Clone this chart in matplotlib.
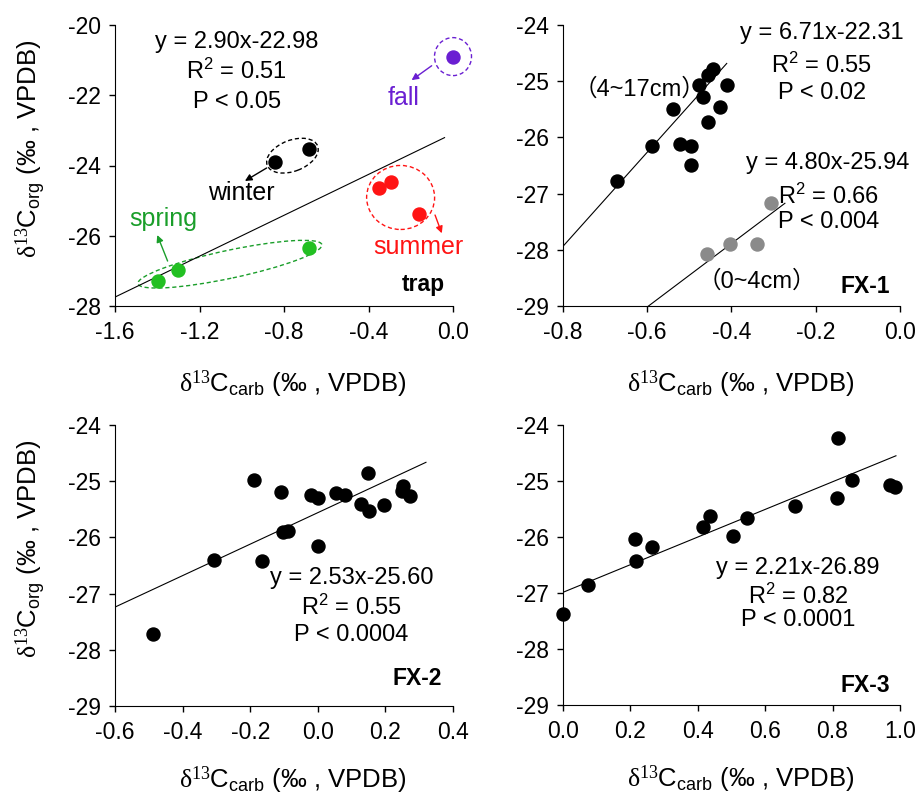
"""Four-panel d13C_org vs d13C_carb scatter plots (trap, FX-1, FX-2, FX-3)."""
import matplotlib
matplotlib.use("Agg")
import matplotlib.pyplot as plt
import matplotlib.transforms as mtransforms
from matplotlib.patches import Ellipse
from matplotlib.ticker import FormatStrFormatter
import numpy as np

plt.rcParams["font.family"] = ["Liberation Sans", "Noto Sans CJK SC", "DejaVu Sans"]
plt.rcParams["mathtext.fontset"] = "custom"
plt.rcParams["mathtext.rm"] = "Liberation Sans"
plt.rcParams["mathtext.it"] = "Liberation Sans:italic"
plt.rcParams["mathtext.sf"] = "Liberation Serif"
plt.rcParams["axes.unicode_minus"] = False

# ---- data ----
# trap, by season
spring_x = [-1.395, -1.303, -0.68]
spring_y = [-27.29, -26.98, -26.36]
summer_x = [-0.349, -0.295, -0.16]
summer_y = [-24.63, -24.48, -25.37]
fall_x = [0.0]
fall_y = [-20.90]
winter_x = [-0.843, -0.68]
winter_y = [-23.91, -23.53]

# FX-1
fx1_deep_x = [-0.672, -0.588, -0.538, -0.522, -0.496, -0.495, -0.477,
              -0.468, -0.455, -0.455, -0.443, -0.427, -0.411]
fx1_deep_y = [-26.78, -26.15, -25.49, -26.12, -26.15, -26.49, -25.07,
              -25.28, -25.72, -24.89, -24.78, -25.46, -25.06]
fx1_surf_x = [-0.457, -0.403, -0.338, -0.307]
fx1_surf_y = [-28.08, -27.89, -27.89, -27.17]

# FX-2
fx2_x = [-0.487, -0.306, -0.164, -0.188, -0.109, -0.102, -0.089, -0.021, 0.001,
         0.001, 0.053, 0.080, 0.129, 0.152, 0.149, 0.196, 0.248, 0.253, 0.273]
fx2_y = [-27.71, -26.41, -26.42, -24.98, -25.19, -25.91, -25.89, -25.24, -25.30,
         -26.16, -25.21, -25.24, -25.40, -25.53, -24.86, -25.43, -25.18, -25.09, -25.26]

# FX-3
fx3_x = [0.002, 0.076, 0.214, 0.216, 0.266, 0.415, 0.437, 0.504,
         0.547, 0.689, 0.814, 0.817, 0.857, 0.970, 0.985]
fx3_y = [-27.37, -26.86, -26.04, -26.42, -26.17, -25.82, -25.62, -25.98,
         -25.66, -25.44, -25.31, -24.24, -24.98, -25.07, -25.10]

# trend lines as drawn: (slope, intercept, x start, x end)
trap_line = (2.91, -23.09, -1.6, -0.04)
fx1_deep_line = (8.38, -21.24, -0.8, -0.411)
fx1_surf_line = (5.65, -25.63, -0.62, -0.273)
fx2_line = (2.80, -25.56, -0.6, 0.32)
fx3_line = (2.47, -26.99, 0.0, 0.988)

# axis ticks
trap_xticks = [-1.6, -1.2, -0.8, -0.4, 0.0]
trap_yticks = [-28, -26, -24, -22, -20]
fx1_xticks = [-0.8, -0.6, -0.4, -0.2, 0.0]
fx2_xticks = [-0.6, -0.4, -0.2, 0.0, 0.2, 0.4]
fx3_xticks = [0.0, 0.2, 0.4, 0.6, 0.8, 1.0]
core_yticks = [-29, -28, -27, -26, -25, -24]

XLABEL = r"$\mathsf{\delta^{13}}\mathrm{C_{carb}}$ (‰ , VPDB)"
YLABEL = r"$\mathsf{\delta^{13}}\mathrm{C_{org}}$ (‰ , VPDB)"

GREEN_PT, GREEN_TX = "#22c022", "#1a9e2a"
RED = "#ff1414"
PURPLE = "#6a1fd2"
GREY = "#8a8a8a"

FS_TICK = 16.5
FS_LAB = 18.5
FS_TXT = 17
FS_TAG = 18
MS = 88

fig = plt.figure(figsize=(9.19, 7.95), dpi=100)
W, H = 919, 795


def add_ax(l, r, t, b):
    return fig.add_axes([l / W, 1 - b / H, (r - l) / W, (b - t) / H])


def style(ax, xticks, yticks, xlab_y, ylabel=False):
    ax.set_xlim(xticks[0], xticks[-1])
    ax.set_ylim(yticks[0], yticks[-1])
    ax.set_xticks(xticks)
    ax.set_yticks(yticks)
    ax.xaxis.set_major_formatter(FormatStrFormatter("%.1f"))
    ax.yaxis.set_major_formatter(FormatStrFormatter("%d"))
    for s in ["top", "right"]:
        ax.spines[s].set_visible(False)
    ax.tick_params(direction="out", length=4, width=1, labelsize=FS_TICK)
    ax.tick_params(axis="x", pad=7)
    ax.tick_params(axis="y", pad=6)
    ax.set_xlabel(XLABEL, fontsize=FS_LAB, ha="left", va="center")
    ax.xaxis.set_label_coords(0.19, xlab_y)
    if ylabel:
        ax.set_ylabel(YLABEL, fontsize=FS_LAB, ha="left", va="center")
        ax.yaxis.set_label_coords(-0.246, 0.17)


def trend(ax, line):
    k, b, x0, x1 = line
    xs = np.array([x0, x1])
    ax.plot(xs, k * xs + b, color="black", lw=0.8)


def stats(ax, x, ys, lines):
    for y, s in zip(ys, lines):
        ax.text(x, y, s, transform=ax.transAxes, ha="center", va="center", fontsize=FS_TXT)


def tag(ax, x, y, s):
    ax.text(x, y, s, transform=ax.transAxes, fontsize=FS_TXT - 0.5, fontweight="bold",
            ha="center", va="center")


def ring(ax, cx, cy, w, h, angle, color):
    # ellipse sized in inches, centred on a data point
    tr = fig.dpi_scale_trans + mtransforms.ScaledTranslation(cx, cy, ax.transData)
    ax.add_patch(Ellipse((0, 0), w, h, angle=angle, transform=tr, fill=False,
                         ls=(0, (3, 2)), lw=1.0, edgecolor=color, clip_on=False))


def arrow(ax, xy_from, xy_to, color):
    ax.annotate("", xy=xy_to, xytext=xy_from,
                arrowprops=dict(arrowstyle="-|>", color=color, lw=1.0,
                                mutation_scale=10, shrinkA=0, shrinkB=0))


# ---- panel 1: trap ----
ax1 = add_ax(115, 453, 25, 306)
style(ax1, trap_xticks, trap_yticks, -0.28, ylabel=True)
trend(ax1, trap_line)
ax1.scatter(spring_x, spring_y, s=MS, color=GREEN_PT, zorder=3, clip_on=False)
ax1.scatter(summer_x, summer_y, s=MS, color=RED, zorder=3, clip_on=False)
ax1.scatter(fall_x, fall_y, s=MS, color=PURPLE, zorder=3, clip_on=False)
ax1.scatter(winter_x, winter_y, s=MS, color="black", zorder=3, clip_on=False)
ring(ax1, 0.0, -20.9, 0.37, 0.38, 0, PURPLE)
ring(ax1, -0.76, -23.72, 0.54, 0.31, 21, "black")
ring(ax1, -0.248, -24.91, 0.68, 0.64, 0, RED)
ring(ax1, -1.056, -26.81, 1.88, 0.28, 12, GREEN_TX)
arrow(ax1, (-0.101, -21.16), (-0.196, -21.57), PURPLE)
arrow(ax1, (-0.882, -24.07), (-0.985, -24.44), "black")
arrow(ax1, (-1.351, -26.72), (-1.40, -25.98), GREEN_TX)
arrow(ax1, (-0.085, -25.41), (-0.053, -25.93), RED)
ax1.text(-0.235, -22.09, "fall", color=PURPLE, fontsize=FS_TAG, ha="center", va="center")
ax1.text(-1.0, -24.79, "winter", color="black", fontsize=FS_TAG, ha="center", va="center")
ax1.text(-1.371, -25.51, "spring", color=GREEN_TX, fontsize=FS_TAG, ha="center", va="center")
ax1.text(-0.164, -26.32, "summer", color=RED, fontsize=FS_TAG, ha="center", va="center")
tag(ax1, 0.912, 0.075, "trap")
stats(ax1, 0.36, [0.94, 0.834, 0.727], ["y = 2.90x-22.98", r"R$^{2}$ = 0.51", "P < 0.05"])

# ---- panel 2: FX-1 ----
ax2 = add_ax(562.7, 900, 25, 306)
style(ax2, fx1_xticks, core_yticks, -0.28)
trend(ax2, fx1_deep_line)
trend(ax2, fx1_surf_line)
ax2.scatter(fx1_deep_x, fx1_deep_y, s=MS, color="black", zorder=3)
ax2.scatter(fx1_surf_x, fx1_surf_y, s=MS, color=GREY, zorder=3)
stats(ax2, 0.768, [0.97, 0.858, 0.757], ["y = 6.71x-22.31", r"R$^{2}$ = 0.55", "P < 0.02"])
stats(ax2, 0.787, [0.508, 0.389, 0.30], ["y = 4.80x-25.94", r"R$^{2}$ = 0.66", "P < 0.004"])
ax2.text(0.229, 0.769, "（4~17cm）", transform=ax2.transAxes, fontsize=FS_TXT,
         ha="center", va="center")
ax2.text(0.575, 0.086, "（0~4cm）", transform=ax2.transAxes, fontsize=FS_TXT,
         ha="center", va="center")
tag(ax2, 0.896, 0.069, "FX-1")

# ---- panel 3: FX-2 ----
ax3 = add_ax(115, 453, 425, 706)
style(ax3, fx2_xticks, core_yticks, -0.265, ylabel=True)
trend(ax3, fx2_line)
ax3.scatter(fx2_x, fx2_y, s=MS, color="black", zorder=3)
stats(ax3, 0.70, [0.454, 0.351, 0.253], ["y = 2.53x-25.60", r"R$^{2}$ = 0.55", "P < 0.0004"])
tag(ax3, 0.893, 0.099, "FX-2")

# ---- panel 4: FX-3 ----
ax4 = add_ax(562.7, 900, 425, 705)
style(ax4, fx3_xticks, core_yticks, -0.265)
trend(ax4, fx3_line)
ax4.scatter(fx3_x, fx3_y, s=MS, color="black", zorder=3, clip_on=False)
stats(ax4, 0.698, [0.488, 0.387, 0.304], ["y = 2.21x-26.89", r"R$^{2}$ = 0.82", "P < 0.0001"])
tag(ax4, 0.896, 0.071, "FX-3")

fig.savefig("out.png", dpi=100)
